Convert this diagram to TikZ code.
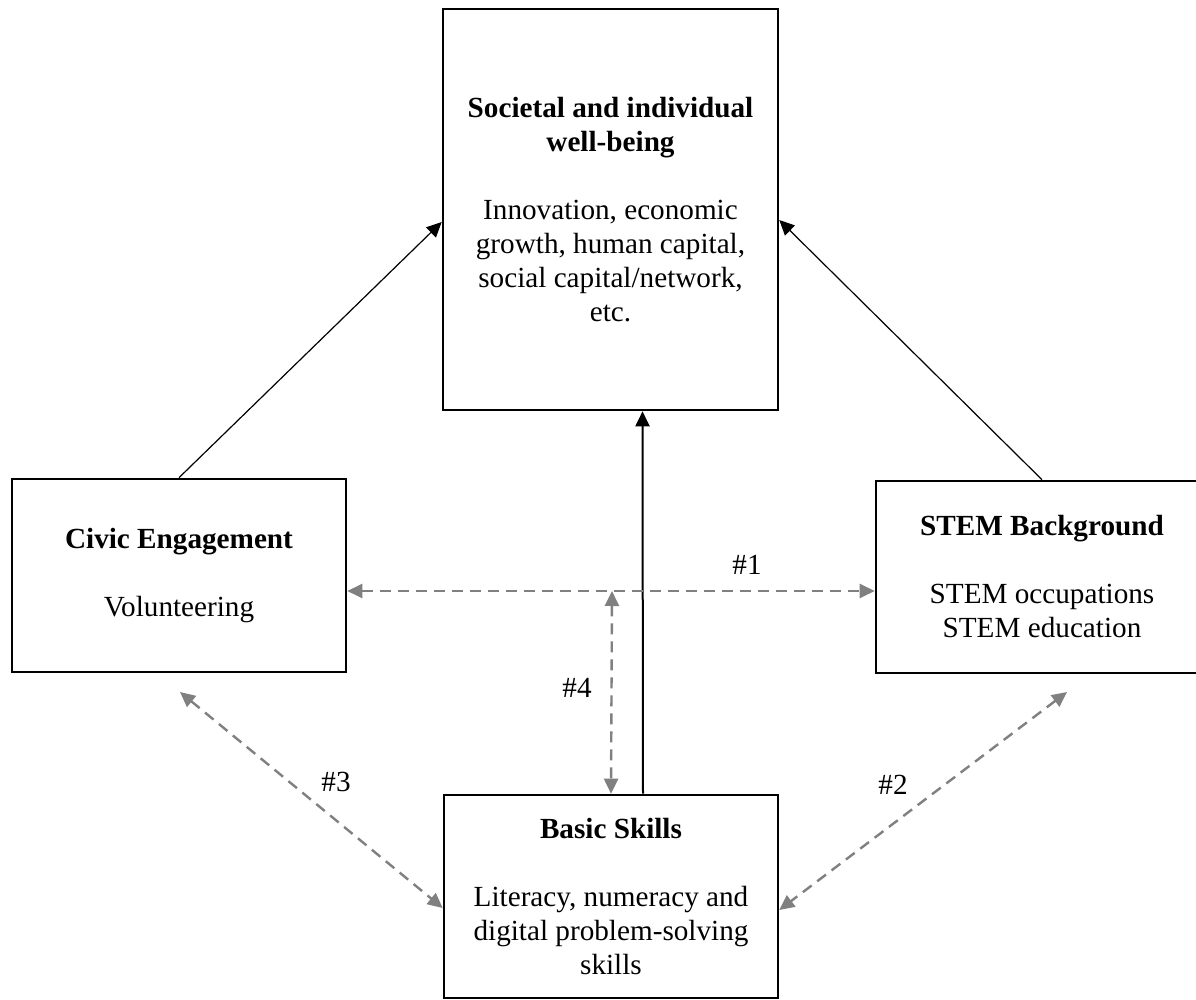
\documentclass[tikz,border=0pt]{standalone}
\usepackage{fontspec}
\setmainfont{Liberation Serif}
\usetikzlibrary{arrows.meta,calc}
\begin{document}
\begin{tikzpicture}[x=0.5pt,y=-0.5pt,
  box/.style={draw, line width=1.3pt, align=center, inner sep=0pt, font=\fontsize{14.6}{17}\selectfont},
  solidarr/.style={-{Triangle[length=7.5pt,width=7pt]}, line width=0.6pt},
  dasharr/.style={{Triangle[length=7.5pt,width=7pt]}-{Triangle[length=7.5pt,width=7pt]}, color=gray, line width=1.2pt, dash pattern=on 5.5pt off 3.5pt},
  lbl/.style={font=\fontsize{14.6}{17}\selectfont, inner sep=0pt}]
\path[use as bounding box, fill=white] (0,0) rectangle (1196,1000);
\clip (0,0) rectangle (1196,1000);
\node[box, minimum width=167.5pt, minimum height=200.5pt] (top) at (610.5,209.5)
  {\textbf{Societal and individual}\\\textbf{well-being}\\[17pt]Innovation, economic\\growth, human capital,\\social capital/network,\\etc.};
\node[box, minimum width=167pt, minimum height=96.5pt] (civic) at (179,575.5)
  {\textbf{Civic Engagement}\\[17pt]Volunteering};
\node[box, minimum width=166pt, minimum height=96pt] (stem) at (1042,577)
  {\textbf{STEM Background}\\[17pt]STEM occupations\\STEM education};
\node[box, minimum width=167pt, minimum height=101.5pt] (basic) at (611,896.5)
  {\textbf{Basic Skills}\\[17pt]Literacy, numeracy and\\digital problem-solving\\skills};
\coordinate (hmid) at (612,591);
\coordinate (c3) at (180,692);
\coordinate (c2) at (1067,692);
\draw[solidarr] (civic.north) -- ($(top.west)+(0,12.5)$);
\draw[solidarr] (stem.north) -- ($(top.east)+(0,10.5)$);
\draw[solidarr, line width=1pt] ($(basic.north)+(32,0)$) -- ($(top.south)+(32,0)$);
\draw[dasharr] (civic.east |- hmid) -- (stem.west |- hmid);
\draw[dasharr] (hmid) -- (basic.north);
\draw[dasharr] (c3) -- ($(basic.west)+(0,11.5)$);
\draw[dasharr] (c2) -- ($(basic.east)+(0,13.5)$);
\node[lbl] (l1) at (747,565) {\#1};
\node[lbl] (l2) at (893,785) {\#2};
\node[lbl] (l3) at (336,782) {\#3};
\node[lbl] (l4) at (577,688) {\#4};
\end{tikzpicture}
\end{document}
